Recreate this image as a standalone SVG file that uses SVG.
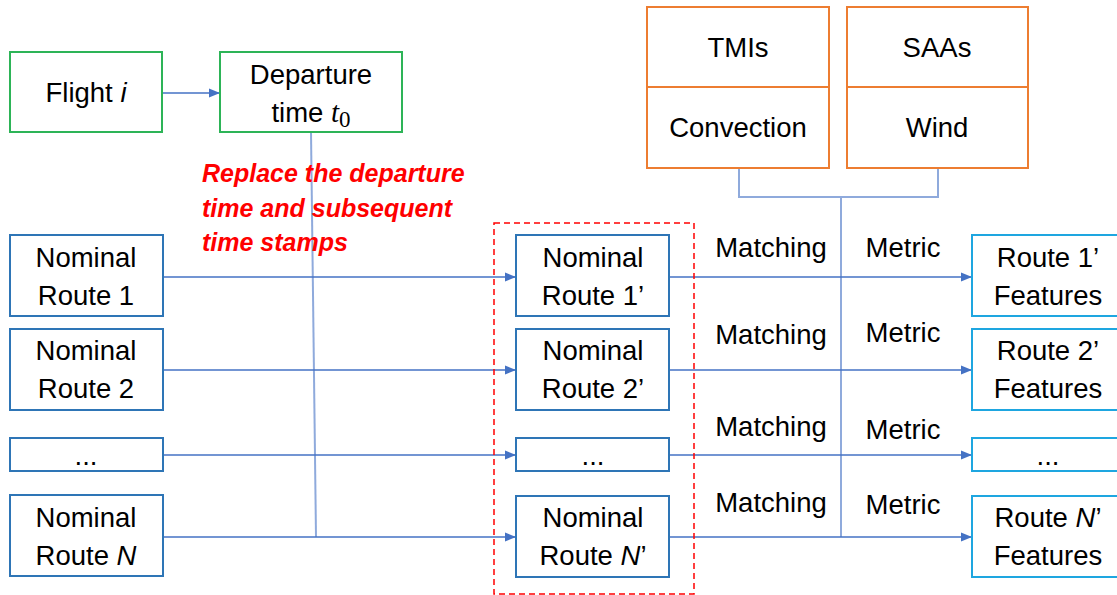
<svg xmlns="http://www.w3.org/2000/svg" width="1117" height="595" viewBox="0 0 1117 595">
<defs>
<style>
.t{font-family:"Liberation Sans",Arial,sans-serif;font-size:27.5px;fill:#000;text-anchor:middle}
.red{font-family:"Liberation Sans",Arial,sans-serif;font-size:25px;font-weight:bold;font-style:italic;fill:#FF0000}
.g{fill:#fff;stroke:#2DB457;stroke-width:2}
.b{fill:#fff;stroke:#2E75B6;stroke-width:2}
.c{fill:#fff;stroke:#1EA6E0;stroke-width:2}
.o{fill:#fff;stroke:#ED7D31;stroke-width:2}
.ln{fill:none;stroke:#4472C4;stroke-width:1.3}
.lt{fill:none;stroke:#8FAADC;stroke-width:2}
</style>
<marker id="ah" markerWidth="11" markerHeight="10" refX="10" refY="5" orient="auto" markerUnits="userSpaceOnUse">
<path d="M0,0.5 L11,5 L0,9.5 Z" fill="#4472C4"/>
</marker>
</defs>
<rect width="1117" height="595" fill="#fff"/>

<g id="connectors">
<line class="ln" x1="163" y1="93" x2="219" y2="93" marker-end="url(#ah)"/>
<line class="lt" x1="311" y1="132" x2="316" y2="537"/>
<line class="ln" x1="163" y1="277" x2="515" y2="277" marker-end="url(#ah)"/>
<line class="ln" x1="163" y1="370" x2="515" y2="370" marker-end="url(#ah)"/>
<line class="ln" x1="163" y1="455" x2="515" y2="455" marker-end="url(#ah)"/>
<line class="ln" x1="163" y1="537" x2="515" y2="537" marker-end="url(#ah)"/>
<polyline class="lt" points="739,168 739,197 938,197 938,168"/>
<line class="lt" x1="841" y1="197" x2="841" y2="537"/>
<line class="ln" x1="670" y1="277" x2="971" y2="277" marker-end="url(#ah)"/>
<line class="ln" x1="670" y1="370" x2="971" y2="370" marker-end="url(#ah)"/>
<line class="ln" x1="670" y1="455" x2="971" y2="455" marker-end="url(#ah)"/>
<line class="ln" x1="670" y1="537" x2="971" y2="537" marker-end="url(#ah)"/>
<rect x="494" y="223" width="200" height="371" fill="none" stroke="#FF0000" stroke-width="1.5" stroke-dasharray="6,4"/>
</g>

<g id="flight">
<rect class="g" x="10" y="52" width="152" height="80"/>
<text class="t" x="86" y="102">Flight <tspan font-style="italic">i</tspan></text>
</g>
<g id="departure">
<rect class="g" x="220" y="52" width="182" height="80"/>
<text class="t" x="311" y="84">Departure</text>
<text class="t" x="311" y="122">time <tspan font-family="'Liberation Serif',serif" font-style="italic" font-size="29">t</tspan><tspan font-family="'Liberation Serif',serif" font-size="23" dy="5">0</tspan></text>
</g>

<g id="note">
<text class="red" x="202" y="182">Replace the departure</text>
<text class="red" x="202" y="217">time and subsequent</text>
<text class="red" x="202" y="251">time stamps</text>
</g>

<g id="tmis"><rect class="o" x="647" y="7" width="182" height="80"/><text class="t" x="738" y="57">TMIs</text></g>
<g id="convection"><rect class="o" x="647" y="87" width="182" height="81"/><text class="t" x="738" y="137">Convection</text></g>
<g id="saas"><rect class="o" x="847" y="7" width="181" height="80"/><text class="t" x="937" y="57">SAAs</text></g>
<g id="wind"><rect class="o" x="847" y="87" width="181" height="81"/><text class="t" x="937" y="137">Wind</text></g>

<g id="nr1"><rect class="b" x="10" y="235" width="153" height="81"/><text class="t" x="86" y="267">Nominal</text><text class="t" x="86" y="305">Route 1</text></g>
<g id="nr2"><rect class="b" x="10" y="329" width="153" height="81"/><text class="t" x="86" y="360">Nominal</text><text class="t" x="86" y="398">Route 2</text></g>
<g id="nr3"><rect class="b" x="10" y="438" width="153" height="33"/><text class="t" x="86" y="465">...</text></g>
<g id="nrN"><rect class="b" x="10" y="495" width="153" height="81"/><text class="t" x="86" y="527">Nominal</text><text class="t" x="86" y="565">Route <tspan font-style="italic">N</tspan></text></g>

<g id="np1"><rect class="b" x="516" y="235" width="153" height="81"/><text class="t" x="593" y="267">Nominal</text><text class="t" x="593" y="305">Route 1’</text></g>
<g id="np2"><rect class="b" x="516" y="329" width="153" height="81"/><text class="t" x="593" y="360">Nominal</text><text class="t" x="593" y="398">Route 2’</text></g>
<g id="np3"><rect class="b" x="516" y="438" width="153" height="33"/><text class="t" x="593" y="465">...</text></g>
<g id="npN"><rect class="b" x="516" y="496" width="153" height="81"/><text class="t" x="593" y="527">Nominal</text><text class="t" x="593" y="565">Route <tspan font-style="italic">N</tspan>’</text></g>

<g id="labels">
<text class="t" x="771" y="257">Matching</text><text class="t" x="903" y="257">Metric</text>
<text class="t" x="771" y="344">Matching</text><text class="t" x="903" y="342">Metric</text>
<text class="t" x="771" y="436">Matching</text><text class="t" x="903" y="439">Metric</text>
<text class="t" x="771" y="512">Matching</text><text class="t" x="903" y="514">Metric</text>
</g>

<g id="f1"><rect class="c" x="972" y="235" width="153" height="81"/><text class="t" x="1048" y="267">Route 1’</text><text class="t" x="1048" y="305">Features</text></g>
<g id="f2"><rect class="c" x="972" y="329" width="153" height="81"/><text class="t" x="1048" y="360">Route 2’</text><text class="t" x="1048" y="398">Features</text></g>
<g id="f3"><rect class="c" x="972" y="438" width="153" height="33"/><text class="t" x="1048" y="465">...</text></g>
<g id="fN"><rect class="c" x="972" y="496" width="153" height="81"/><text class="t" x="1048" y="527">Route <tspan font-style="italic">N</tspan>’</text><text class="t" x="1048" y="565">Features</text></g>
</svg>
